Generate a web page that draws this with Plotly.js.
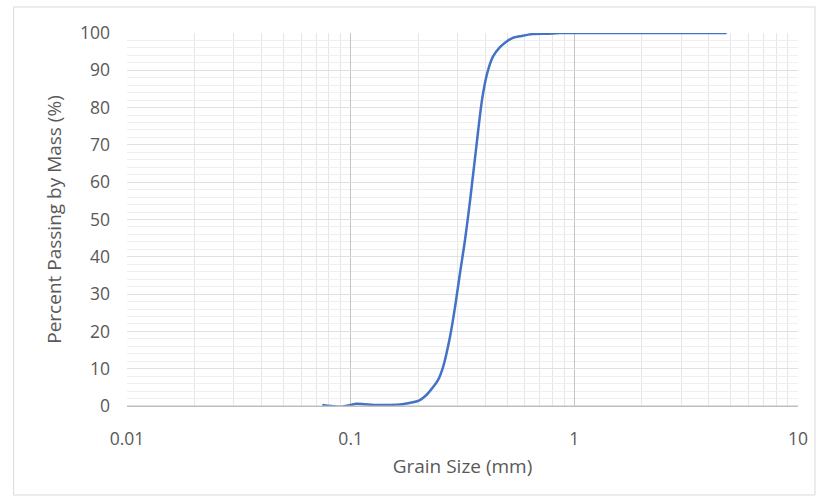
<!DOCTYPE html>
<html><head><meta charset="utf-8">
<script src="https://cdn.plot.ly/plotly-3.0.1.min.js"></script>
<style>html,body{margin:0;padding:0;background:#fff}#chart{width:824px;height:502px}</style>
</head><body><div id="chart"></div>
<script>
// Grain size (mm) and percent passing by mass (%)
const grainSize = [0.0747, 0.082, 0.09, 0.1, 0.106, 0.115, 0.13, 0.15, 0.17, 0.19, 0.204, 0.215, 0.226, 0.246, 0.259, 0.278, 0.2928, 0.3083, 0.3245, 0.3417, 0.367, 0.3865, 0.407, 0.432, 0.465, 0.5, 0.531, 0.58, 0.652, 0.75, 0.861, 1.0, 2.0, 4.8];
const percentPassing = [0.3, 0.0, -0.2, 0.3, 0.6, 0.5, 0.3, 0.3, 0.5, 1.0, 1.6, 2.6, 4.0, 7.0, 10.5, 18.5, 26.5, 35.7, 44.5, 55.0, 71.0, 82.0, 89.0, 93.6, 96.2, 97.8, 98.7, 99.2, 99.7, 99.8, 100.0, 100.0, 100.0, 100.0];
const yTicks = [0, 10, 20, 30, 40, 50, 60, 70, 80, 90, 100];
const xTickVals = [0.01, 0.1, 1, 10];
const xTickText = ['0.01', '0.1', '1', '10'];
const xLabel = 'Grain Size (mm)';
const yLabel = 'Percent Passing by Mass (%)';

const font = {family: '"Open Sans", sans-serif', size: 19, color: '#595959'};
const tickFont = {family: '"Open Sans", sans-serif', size: 17.5, color: '#595959'};
const L = 126.5, R = 26, T = 33, B = 96, W = 824, H = 502;
const pw = W - L - R, ph = H - T - B;
const px = v => (v - L) / pw;
const py = v => 1 - (v - T) / ph;

Plotly.newPlot('chart', [{
  x: grainSize, y: percentPassing, type: 'scatter', mode: 'lines',
  line: {color: '#4472C4', width: 2.5, shape: 'spline', smoothing: 0.8},
  cliponaxis: false, hoverinfo: 'skip'
}], {
  width: W, height: H,
  margin: {l: L, r: R, t: T, b: B, pad: 0},
  paper_bgcolor: '#fff', plot_bgcolor: '#fff',
  showlegend: false, font: font,
  xaxis: {
    type: 'log', range: [-2, 1], tickvals: xTickVals, ticktext: xTickText, tickfont: tickFont,
    showgrid: true, gridcolor: '#c4c4c4', gridwidth: 1.3,
    minor: {showgrid: true, gridcolor: '#e6e6e6', gridwidth: 1, dtick: 'D1', ticks: ''},
    showline: true, linecolor: '#bfbfbf', linewidth: 1, mirror: false,
    zeroline: false, ticks: '', ticklabelstandoff: 17,
    title: {text: xLabel, font: font, standoff: 10}
  },
  yaxis: {
    range: [0, 100], tickvals: yTicks, tickfont: tickFont,
    showgrid: true, gridcolor: '#e0e0e0', gridwidth: 1,
    minor: {showgrid: true, gridcolor: '#efefef', gridwidth: 1, dtick: 2, ticks: ''},
    showline: false, zeroline: false, ticks: '', ticklabelstandoff: 16,
    title: {text: yLabel, font: font, standoff: 13}
  },
  shapes: [
    {type: 'rect', xref: 'paper', yref: 'paper', x0: px(13), x1: px(815), y0: py(7), y1: py(495),
     line: {color: '#d9d9d9', width: 1}, fillcolor: 'rgba(0,0,0,0)', layer: 'below'},
    {type: 'line', xref: 'paper', yref: 'paper', x0: 0, x1: 1, y0: 0, y1: 0, line: {color: '#bfbfbf', width: 1}}
  ]
}, {staticPlot: true});
</script></body></html>
